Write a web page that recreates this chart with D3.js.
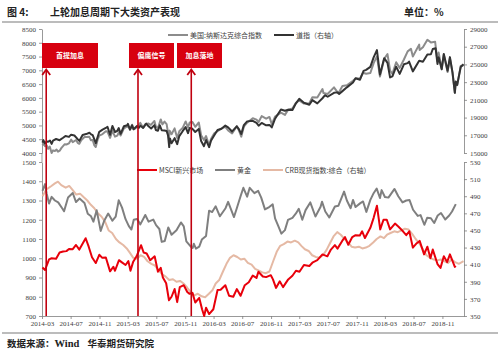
<!DOCTYPE html>
<html><head><meta charset="utf-8">
<script src="https://cdn.jsdelivr.net/npm/d3@7"></script>
<style>body{margin:0;background:#fff;}svg{display:block;}</style>
</head><body><svg id="c" width="500" height="357"></svg>
<script>
// ---------- data ----------
const xTickLabels = ["2014-03","2014-07","2014-11","2015-03","2015-07","2015-11","2016-03","2016-07","2016-11","2017-03","2017-07","2017-11","2018-03","2018-07","2018-11"];
const topLeftTicks = [4000,4500,5000,5500,6000,6500,7000,7500,8000,8500];
const topRightTicks = [15000,17000,19000,21000,23000,25000,27000,29000];
const botLeftTicks = [700,800,900,1000,1100,1200,1300,1400,1500];
const botRightTicks = [350,370,390,410,430,450,470,490,510,530];
const seriesNames = ["美国:纳斯达克综合指数","道指（右轴）","MSCI新兴市场","黄金","CRB现货指数:综合（右轴）"];
const eventLabels = ["首提加息","偏鹰信号","加息落地"];
const eventDates = ["2014-03-19","2015-04-14","2015-11-27"];

const nasdaq = [["2014-03-03",4277],["2014-03-07",4336],["2014-03-14",4245],["2014-03-21",4276],["2014-03-27",4151],["2014-04-03",4237],["2014-04-11",3999],["2014-04-17",4095],["2014-04-25",4075],["2014-05-02",4123],["2014-05-08",4051],["2014-05-16",4090],["2014-05-23",4185],["2014-06-06",4321],["2014-06-13",4310],["2014-06-24",4350],["2014-07-03",4485],["2014-07-10",4396],["2014-07-24",4473],["2014-07-31",4369],["2014-08-07",4334],["2014-08-15",4464],["2014-08-29",4580],["2014-09-05",4582],["2014-09-18",4593],["2014-09-25",4466],["2014-10-03",4475],["2014-10-10",4276],["2014-10-16",4217],["2014-10-24",4483],["2014-10-31",4631],["2014-11-14",4688],["2014-11-28",4791],["2014-12-05",4780],["2014-12-16",4547],["2014-12-26",4806],["2015-01-06",4592],["2015-01-16",4634],["2015-01-22",4750],["2015-01-30",4635],["2015-02-13",4893],["2015-02-27",4964],["2015-03-06",4927],["2015-03-11",4849],["2015-03-20",5026],["2015-03-26",4863],["2015-04-02",4886],["2015-04-14",4977],["2015-04-24",5092],["2015-05-06",4920],["2015-05-15",5048],["2015-05-29",5070],["2015-06-08",5021],["2015-06-23",5160],["2015-06-29",4958],["2015-07-08",4909],["2015-07-20",5218],["2015-07-27",5039],["2015-08-05",5139],["2015-08-14",5048],["2015-08-24",4526],["2015-08-27",4812],["2015-09-04",4683],["2015-09-17",4893],["2015-09-28",4543],["2015-10-07",4791],["2015-10-22",4920],["2015-11-03",5145],["2015-11-13",4927],["2015-11-20",5104],["2015-12-02",5123],["2015-12-14",4952],["2015-12-29",5107],["2016-01-08",4643],["2016-01-20",4472],["2016-01-29",4614],["2016-02-11",4267],["2016-02-19",4504],["2016-03-04",4717],["2016-03-18",4795],["2016-04-04",4891],["2016-04-20",4948],["2016-05-02",4817],["2016-05-19",4712],["2016-06-08",4974],["2016-06-16",4835],["2016-06-27",4594],["2016-07-08",4956],["2016-07-22",5100],["2016-08-15",5262],["2016-08-31",5213],["2016-09-09",5125],["2016-09-22",5339],["2016-10-11",5246],["2016-10-25",5309],["2016-11-04",5046],["2016-11-18",5321],["2016-12-13",5463],["2016-12-30",5383],["2017-01-13",5574],["2017-01-31",5615],["2017-02-15",5819],["2017-03-01",5904],["2017-03-21",5794],["2017-04-13",5805],["2017-04-26",6025],["2017-05-17",6011],["2017-06-08",6322],["2017-06-12",6175],["2017-06-30",6140],["2017-07-27",6383],["2017-08-10",6216],["2017-08-18",6216],["2017-09-01",6435],["2017-09-20",6456],["2017-10-16",6624],["2017-10-27",6701],["2017-11-15",6706],["2017-11-28",6912],["2017-12-11",6875],["2017-12-29",6903],["2018-01-12",7261],["2018-01-26",7505],["2018-02-08",6777],["2018-02-26",7421],["2018-03-12",7588],["2018-03-23",6993],["2018-04-02",6871],["2018-04-18",7295],["2018-05-03",7088],["2018-05-21",7394],["2018-06-06",7689],["2018-06-20",7782],["2018-06-28",7503],["2018-07-25",7932],["2018-07-27",7737],["2018-08-10",7839],["2018-08-29",8109],["2018-09-13",8013],["2018-10-01",8037],["2018-10-11",7329],["2018-10-16",7645],["2018-10-29",7050],["2018-11-07",7570],["2018-11-23",6939],["2018-12-03",7441],["2018-12-14",6910],["2018-12-24",6193],["2018-12-28",6585],["2019-01-03",6463],["2019-01-18",7157],["2019-01-30",7183]];

const dow = [["2014-03-03",16168],["2014-03-07",16452],["2014-03-14",16065],["2014-03-21",16302],["2014-03-27",16264],["2014-04-04",16412],["2014-04-11",16027],["2014-04-17",16409],["2014-04-30",16581],["2014-05-15",16447],["2014-05-30",16717],["2014-06-09",16924],["2014-06-24",16818],["2014-07-03",17068],["2014-07-17",16977],["2014-07-31",16563],["2014-08-07",16368],["2014-08-21",17039],["2014-09-05",17138],["2014-09-19",17280],["2014-09-26",17113],["2014-10-03",17009],["2014-10-10",16544],["2014-10-16",16117],["2014-10-31",17391],["2014-11-14",17635],["2014-11-28",17828],["2014-12-05",17958],["2014-12-16",17068],["2014-12-26",18053],["2015-01-06",17371],["2015-01-16",17511],["2015-01-22",17813],["2015-01-30",17165],["2015-02-13",18019],["2015-02-27",18133],["2015-03-02",18288],["2015-03-11",17635],["2015-03-20",18128],["2015-03-26",17678],["2015-04-10",18057],["2015-04-17",17826],["2015-04-24",18080],["2015-05-06",17841],["2015-05-19",18312],["2015-05-29",18011],["2015-06-09",17765],["2015-06-23",18144],["2015-06-29",17596],["2015-07-08",17515],["2015-07-16",18120],["2015-07-24",17568],["2015-08-05",17540],["2015-08-14",17477],["2015-08-20",16990],["2015-08-25",15666],["2015-08-28",16643],["2015-09-04",16102],["2015-09-17",16675],["2015-09-28",16001],["2015-10-07",16912],["2015-10-22",17489],["2015-11-03",17918],["2015-11-13",17245],["2015-11-20",17823],["2015-12-02",17730],["2015-12-14",17368],["2015-12-29",17720],["2016-01-08",16346],["2016-01-20",15766],["2016-01-29",16466],["2016-02-11",15660],["2016-02-19",16392],["2016-03-04",17006],["2016-03-18",17602],["2016-04-04",17737],["2016-04-20",18096],["2016-05-02",17891],["2016-05-19",17435],["2016-06-08",18005],["2016-06-16",17733],["2016-06-27",17140],["2016-07-08",18146],["2016-07-22",18570],["2016-08-15",18636],["2016-08-31",18400],["2016-09-09",18085],["2016-09-22",18392],["2016-10-11",18128],["2016-10-25",18169],["2016-11-04",17888],["2016-11-18",18867],["2016-12-13",19911],["2016-12-30",19762],["2017-01-13",19885],["2017-01-31",19864],["2017-02-15",20611],["2017-03-01",21115],["2017-03-21",20668],["2017-04-13",20453],["2017-04-26",20975],["2017-05-17",20606],["2017-06-08",21182],["2017-06-19",21528],["2017-06-30",21349],["2017-07-27",21796],["2017-08-10",21844],["2017-08-18",21674],["2017-09-01",21987],["2017-09-20",22412],["2017-10-16",22956],["2017-10-27",23434],["2017-11-15",23271],["2017-11-30",24272],["2017-12-11",24386],["2017-12-29",24719],["2018-01-12",25803],["2018-01-26",26617],["2018-02-08",23860],["2018-02-26",25709],["2018-03-12",25178],["2018-03-23",23533],["2018-04-02",23644],["2018-04-18",24748],["2018-05-03",23930],["2018-05-21",25013],["2018-06-06",25146],["2018-06-12",25320],["2018-06-28",24216],["2018-07-25",25414],["2018-08-10",25313],["2018-08-29",26124],["2018-09-13",26145],["2018-09-21",26743],["2018-10-03",26828],["2018-10-11",25052],["2018-10-16",25798],["2018-10-29",24443],["2018-11-07",26180],["2018-11-23",24286],["2018-12-03",25826],["2018-12-14",24100],["2018-12-24",21792],["2018-12-28",23062],["2019-01-03",22686],["2019-01-18",24706],["2019-01-30",25014]];

const msci = [["2014-03-03",952],["2014-03-14",939],["2014-03-31",994],["2014-04-11",1000],["2014-04-30",997],["2014-05-15",1030],["2014-05-30",1035],["2014-06-13",1037],["2014-06-24",1048],["2014-07-10",1047],["2014-07-24",1069],["2014-08-07",1045],["2014-08-22",1078],["2014-09-03",1104],["2014-09-16",1060],["2014-09-30",1005],["2014-10-16",975],["2014-10-31",1018],["2014-11-13",1002],["2014-11-28",1004],["2014-12-16",932],["2014-12-30",956],["2015-01-06",935],["2015-01-23",990],["2015-02-03",980],["2015-02-20",965],["2015-03-04",985],["2015-03-13",935],["2015-03-24",980],["2015-04-08",1010],["2015-04-27",1068],["2015-05-08",1030],["2015-05-21",1025],["2015-06-05",990],["2015-06-24",1010],["2015-07-08",930],["2015-07-20",950],["2015-07-29",900],["2015-08-12",870],["2015-08-24",782],["2015-09-04",800],["2015-09-17",840],["2015-09-28",772],["2015-10-09",850],["2015-10-26",860],["2015-11-10",825],["2015-11-20",815],["2015-12-02",820],["2015-12-14",770],["2015-12-31",794],["2016-01-12",735],["2016-01-21",700],["2016-01-29",743],["2016-02-11",710],["2016-02-29",735],["2016-03-18",835],["2016-03-31",836],["2016-04-20",860],["2016-05-06",805],["2016-05-24",800],["2016-06-08",840],["2016-06-24",805],["2016-07-12",860],["2016-07-29",875],["2016-08-15",910],["2016-08-31",898],["2016-09-08",930],["2016-09-27",905],["2016-10-11",902],["2016-10-31",912],["2016-11-09",890],["2016-11-22",846],["2016-12-08",880],["2016-12-22",850],["2017-01-13",890],["2017-01-31",909],["2017-02-15",935],["2017-03-02",930],["2017-03-21",965],["2017-04-13",960],["2017-04-28",979],["2017-05-17",990],["2017-06-08",1020],["2017-06-29",1010],["2017-07-14",1045],["2017-07-31",1068],["2017-08-11",1050],["2017-08-31",1090],["2017-09-12",1110],["2017-09-26",1070],["2017-10-13",1110],["2017-10-27",1120],["2017-11-14",1118],["2017-11-24",1140],["2017-12-06",1105],["2017-12-29",1158],["2018-01-12",1210],["2018-01-26",1273],["2018-02-09",1150],["2018-02-23",1200],["2018-03-09",1200],["2018-03-23",1150],["2018-04-13",1180],["2018-04-27",1165],["2018-05-17",1140],["2018-05-31",1120],["2018-06-13",1140],["2018-06-28",1055],["2018-07-12",1075],["2018-07-27",1090],["2018-08-15",1020],["2018-08-29",1060],["2018-09-11",1000],["2018-09-21",1045],["2018-10-11",970],["2018-10-24",950],["2018-11-07",1010],["2018-11-21",980],["2018-12-03",1020],["2018-12-24",955],["2018-12-28",960]];

const gold = [["2014-03-03",1350],["2014-03-14",1385],["2014-03-21",1335],["2014-03-31",1284],["2014-04-11",1319],["2014-04-25",1300],["2014-05-09",1290],["2014-05-28",1256],["2014-06-03",1244],["2014-06-20",1316],["2014-07-10",1339],["2014-07-24",1292],["2014-08-08",1310],["2014-08-29",1287],["2014-09-12",1231],["2014-09-26",1218],["2014-10-06",1190],["2014-10-20",1249],["2014-11-06",1142],["2014-11-21",1195],["2014-12-08",1232],["2014-12-26",1195],["2015-01-09",1216],["2015-01-22",1301],["2015-02-05",1263],["2015-02-20",1203],["2015-03-06",1167],["2015-03-17",1149],["2015-03-27",1200],["2015-04-10",1204],["2015-04-24",1176],["2015-05-15",1225],["2015-05-29",1190],["2015-06-18",1201],["2015-06-30",1172],["2015-07-14",1152],["2015-07-24",1085],["2015-08-06",1090],["2015-08-21",1160],["2015-09-04",1122],["2015-09-25",1145],["2015-10-14",1186],["2015-10-26",1166],["2015-11-06",1088],["2015-11-27",1058],["2015-12-03",1053],["2015-12-08",1075],["2015-12-17",1050],["2015-12-31",1060],["2016-01-11",1097],["2016-01-29",1116],["2016-02-11",1247],["2016-02-24",1240],["2016-03-10",1270],["2016-03-28",1218],["2016-04-21",1260],["2016-05-02",1293],["2016-05-27",1214],["2016-06-08",1260],["2016-06-24",1322],["2016-07-06",1366],["2016-07-22",1320],["2016-08-02",1366],["2016-08-22",1338],["2016-09-07",1350],["2016-09-20",1315],["2016-10-06",1254],["2016-10-24",1266],["2016-11-08",1280],["2016-11-18",1207],["2016-12-01",1170],["2016-12-15",1128],["2016-12-30",1146],["2017-01-12",1199],["2017-01-31",1210],["2017-02-15",1233],["2017-02-27",1257],["2017-03-14",1200],["2017-03-28",1250],["2017-04-17",1290],["2017-05-09",1217],["2017-05-31",1268],["2017-06-06",1294],["2017-06-20",1243],["2017-07-07",1212],["2017-07-31",1269],["2017-08-15",1273],["2017-09-08",1346],["2017-09-20",1300],["2017-10-06",1260],["2017-10-16",1303],["2017-10-27",1266],["2017-11-15",1285],["2017-11-28",1295],["2017-12-12",1241],["2017-12-29",1303],["2018-01-12",1338],["2018-01-25",1362],["2018-02-08",1313],["2018-02-15",1354],["2018-03-01",1318],["2018-03-16",1315],["2018-04-11",1360],["2018-04-27",1322],["2018-05-15",1290],["2018-05-31",1300],["2018-06-14",1302],["2018-06-29",1252],["2018-07-19",1220],["2018-07-31",1224],["2018-08-16",1174],["2018-08-28",1210],["2018-09-13",1208],["2018-09-27",1183],["2018-10-12",1222],["2018-10-26",1235],["2018-11-13",1201],["2018-11-30",1222],["2018-12-12",1243],["2018-12-28",1281]];

const crb = [["2014-03-03",490],["2014-03-20",498],["2014-04-10",502],["2014-04-25",505],["2014-05-08",507],["2014-05-22",503],["2014-06-10",500],["2014-06-25",502],["2014-07-10",497],["2014-07-25",492],["2014-08-10",493],["2014-08-25",489],["2014-09-10",485],["2014-09-25",480],["2014-10-10",476],["2014-10-25",470],["2014-11-10",466],["2014-11-25",460],["2014-12-10",450],["2014-12-25",447],["2015-01-10",440],["2015-01-25",436],["2015-02-10",433],["2015-02-25",429],["2015-03-10",424],["2015-03-25",418],["2015-04-10",417],["2015-04-25",421],["2015-05-10",419],["2015-05-25",414],["2015-06-10",411],["2015-06-25",409],["2015-07-10",404],["2015-07-25",399],["2015-08-10",396],["2015-08-25",392],["2015-09-10",393],["2015-09-25",390],["2015-10-10",391],["2015-10-25",388],["2015-11-10",383],["2015-11-25",378],["2015-12-10",374],["2015-12-25",376],["2016-01-10",373],["2016-01-25",372],["2016-02-10",376],["2016-02-25",380],["2016-03-10",388],["2016-03-25",392],["2016-04-10",402],["2016-04-25",411],["2016-05-10",418],["2016-05-25",421],["2016-06-10",419],["2016-06-25",416],["2016-07-10",417],["2016-07-25",412],["2016-08-10",410],["2016-08-25",405],["2016-09-10",403],["2016-09-25",401],["2016-10-10",400],["2016-10-25",402],["2016-11-10",414],["2016-11-25",425],["2016-12-10",432],["2016-12-25",434],["2017-01-10",437],["2017-01-25",436],["2017-02-10",438],["2017-02-25",436],["2017-03-10",432],["2017-03-25",428],["2017-04-10",426],["2017-04-25",421],["2017-05-10",419],["2017-05-25",418],["2017-06-10",421],["2017-06-25",427],["2017-07-10",435],["2017-07-25",443],["2017-08-10",448],["2017-08-25",445],["2017-09-10",440],["2017-09-25",436],["2017-10-10",431],["2017-10-25",430],["2017-11-10",431],["2017-11-25",429],["2017-12-10",430],["2017-12-25",432],["2018-01-10",436],["2018-01-25",440],["2018-02-10",443],["2018-02-25",441],["2018-03-10",445],["2018-03-25",447],["2018-04-10",449],["2018-04-25",448],["2018-05-10",450],["2018-05-25",452],["2018-06-10",451],["2018-06-25",446],["2018-07-10",440],["2018-07-25",435],["2018-08-10",428],["2018-08-25",421],["2018-09-10",418],["2018-09-25",416],["2018-10-10",415],["2018-10-25",416],["2018-11-10",414],["2018-11-25",412],["2018-12-10",416],["2018-12-25",413],["2019-01-10",411],["2019-01-30",414]];

// ---------- layout ----------
const L = 42, R = 464, T0 = 29, T1 = 153, B0 = 162, B1 = 316;
const svg = d3.select("#c");
const parse = d3.timeParse("%Y-%m-%d");
const parseM = d3.timeParse("%Y-%m");
const num = "'Liberation Serif','Times New Roman',serif";
const cjk = "'Noto Sans CJK SC','Noto Sans',sans-serif";

const x = d3.scaleTime().domain([parseM("2014-03"), parseM("2019-02")]).range([L, R]);
const yTL = d3.scaleLinear().domain([4000, 8500]).range([T1, T0]);
const yTR = d3.scaleLinear().domain([15000, 29000]).range([T1, T0]);
const yBL = d3.scaleLinear().domain([700, 1500]).range([B1, B0]);
const yBR = d3.scaleLinear().domain([350, 530]).range([B1, B0]);

// header
const hdr = (xx, t) => svg.append("text").attr("x", xx).attr("y", 16).attr("font-family", cjk).attr("font-size", 10).attr("font-weight", 700).attr("fill", "#222").text(t);
hdr(7, "图 4:");
hdr(50, "上轮加息周期下大类资产表现");
hdr(404, "单位：%");
svg.append("line").attr("x1", 2).attr("x2", 498).attr("y1", 22).attr("y2", 22).attr("stroke", "#a6a6a6").attr("stroke-width", 1.5);
svg.append("line").attr("x1", 2).attr("x2", 498).attr("y1", 333).attr("y2", 333).attr("stroke", "#a6a6a6").attr("stroke-width", 1.5);
const ft = svg.append("text").attr("x", 7).attr("y", 347).attr("font-family", cjk).attr("font-size", 9.5).attr("font-weight", 700).attr("fill", "#222");
ft.append("tspan").text("数据来源：");
ft.append("tspan").attr("font-family", num).attr("font-size", 10.5).text("Wind");
ft.append("tspan").attr("dx", 8).text("华泰期货研究院");

// axes
function styleAxis(g) {
  g.selectAll("path, line").attr("stroke", "#7f7f7f").attr("stroke-width", 0.8);
  g.selectAll("text").attr("font-family", num).attr("font-size", 7).attr("fill", "#404040");
}
svg.append("g").attr("transform", `translate(${L},0)`).call(d3.axisLeft(yTL).tickValues(topLeftTicks).tickSize(3).tickSizeOuter(0).tickPadding(3).tickFormat(d3.format("d"))).call(styleAxis);
svg.append("g").attr("transform", `translate(${R},0)`).call(d3.axisRight(yTR).tickValues(topRightTicks).tickSize(3).tickSizeOuter(0).tickPadding(3).tickFormat(d3.format("d"))).call(styleAxis);
svg.append("g").attr("transform", `translate(${L},0)`).call(d3.axisLeft(yBL).tickValues(botLeftTicks).tickSize(3).tickSizeOuter(0).tickPadding(3).tickFormat(d3.format("d"))).call(styleAxis);
svg.append("g").attr("transform", `translate(${R},0)`).call(d3.axisRight(yBR).tickValues(botRightTicks).tickSize(3).tickSizeOuter(0).tickPadding(3).tickFormat(d3.format("d"))).call(styleAxis);
svg.append("line").attr("x1", L).attr("x2", L).attr("y1", T1).attr("y2", B0).attr("stroke", "#7f7f7f").attr("stroke-width", 0.8);
svg.append("g").attr("transform", `translate(0,${B1})`).call(d3.axisBottom(x).tickValues(xTickLabels.map(parseM)).tickSize(3).tickSizeOuter(0).tickPadding(2).tickFormat(d3.timeFormat("%Y-%m"))).call(styleAxis);

// lines
function drawLine(data, y, color, w) {
  const gen = d3.line().x(d => x(parse(d[0]))).y(d => y(d[1]));
  svg.append("path").datum(data).attr("d", gen).attr("fill", "none").attr("stroke", color).attr("stroke-width", w).attr("stroke-linejoin", "round");
}
drawLine(nasdaq, yTL, "#8c8c8c", 2);
drawLine(dow, yTR, "#333333", 2);
drawLine(crb, yBR, "#e5b9a4", 2);
drawLine(gold, yBL, "#7f7f7f", 2);
drawLine(msci, yBL, "#e8000b", 2);

// legends
function legend(x0, yv, color, label, w) {
  svg.append("line").attr("x1", x0).attr("x2", x0 + 20).attr("y1", yv).attr("y2", yv).attr("stroke", color).attr("stroke-width", w);
  svg.append("text").attr("x", x0 + 22).attr("y", yv + 2.5).attr("font-family", cjk).attr("font-size", 7).attr("fill", "#404040").text(label);
}
legend(168, 35, "#8c8c8c", seriesNames[0], 2);
legend(274, 35, "#333333", seriesNames[1], 2);
legend(137, 170, "#e8000b", seriesNames[2], 2);
legend(215, 170, "#7f7f7f", seriesNames[3], 2);
legend(263, 170, "#e5b9a4", seriesNames[4], 2);

// event markers
const boxes = [[42, 98], [129, 174], [177, 222]];
eventDates.forEach((d, i) => {
  const xe = x(parse(d));
  svg.append("line").attr("x1", xe).attr("x2", xe).attr("y1", 70).attr("y2", B1).attr("stroke", "#c0000f").attr("stroke-width", 1.6);
  svg.append("path").attr("d", `M${xe - 4},${75} L${xe},${69.5} L${xe + 4},${75}`).attr("fill", "none").attr("stroke", "#c0000f").attr("stroke-width", 1.8);
  const [bx0, bx1] = boxes[i];
  svg.append("rect").attr("x", bx0).attr("y", 43).attr("width", bx1 - bx0).attr("height", 25).attr("fill", "#d7000f");
  svg.append("text").attr("x", (bx0 + bx1) / 2).attr("y", 58).attr("text-anchor", "middle").attr("font-family", cjk).attr("font-size", 7).attr("font-weight", 700).attr("fill", "#fff").text(eventLabels[i]);
});
</script></body></html>
